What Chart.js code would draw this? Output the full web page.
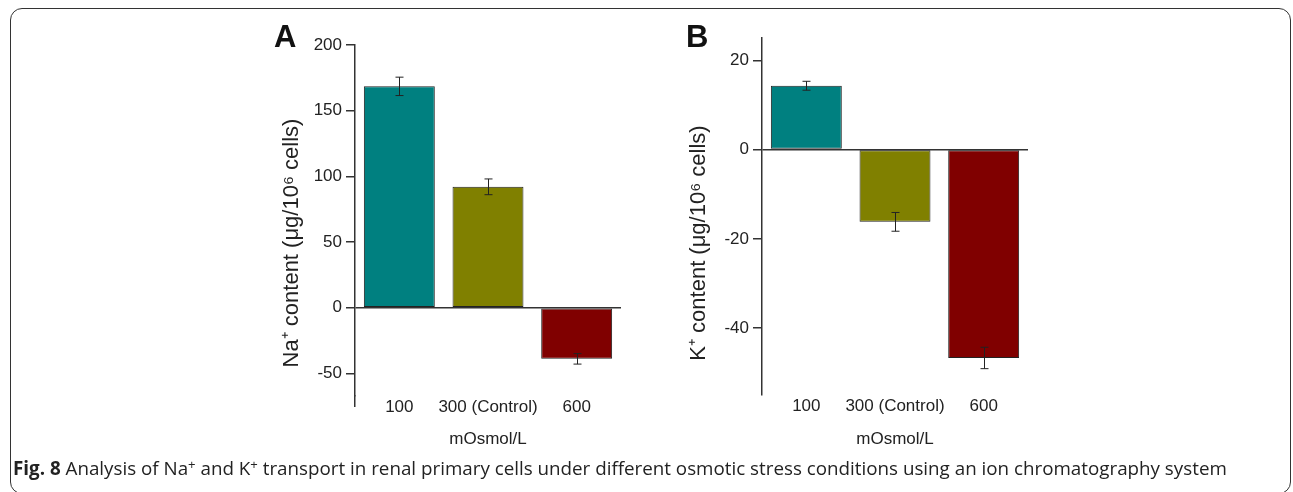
<!DOCTYPE html>
<html>
<head>
<meta charset="utf-8">
<script src="https://cdn.jsdelivr.net/npm/chart.js@4.4.1/dist/chart.umd.min.js"></script>
<style>
  body { margin: 0; background: #fff; width: 1293px; height: 492px; overflow: hidden; position: relative; }
  #frame { position: absolute; left: 10px; top: 8px; width: 1281px; height: 486px; box-sizing: border-box;
           border: 1.5px solid #333; border-radius: 12px; }
  .panel { position: absolute; top: 0; width: 400px; height: 460px; }
  #wrapA { left: 240px; }
  #wrapB { left: 650px; }
  .letter { position: absolute; top: 21px; font: bold 31px/31px "Liberation Sans", Arial, sans-serif; color: #111; }
  #caption { position: absolute; left: 13px; top: 459px; font: 18.8px/19px "Open Sans", sans-serif; color: #222; white-space: nowrap; }
  #caption sup { font-size: 0.7em; vertical-align: 0.45em; line-height: 0; }
</style>
</head>
<body>
<div id="frame"></div>
<div class="panel" id="wrapA"><canvas id="chartA" width="400" height="460"></canvas></div>
<div class="panel" id="wrapB"><canvas id="chartB" width="400" height="460"></canvas></div>
<div class="letter" style="left:274px">A</div>
<div class="letter" style="left:686px">B</div>
<div id="caption"><b>Fig. 8</b> Analysis of Na<sup>+</sup> and K<sup>+</sup> transport in renal primary cells under different osmotic stress conditions using an ion chromatography system</div>

<script>
const categories = ['100', '300 (Control)', '600'];
const barColors = ['#008080', '#808000', '#800000'];

const naValues = [168.5, 92, -39];
const naErrors = [7, 6, 4];
const naTicks = [-50, 0, 50, 100, 150, 200];

const kValues = [14.3, -16.2, -46.7];
const kErrors = [1, 2.1, 2.4];
const kTicks = [-40, -20, 0, 20];

const ink = '#222';
const fontFam = '"Liberation Sans", Arial, sans-serif';

// error bars drawn from the bar elements and the y scale
const errorBars = {
    id: 'errorBars',
    afterDatasetsDraw(chart, args, opts) {
        const ctx = chart.ctx;
        const y = chart.scales.y;
        const meta = chart.getDatasetMeta(0);
        ctx.save();
        ctx.strokeStyle = ink;
        ctx.lineWidth = 1;
        meta.data.forEach((bar, i) => {
            const v = opts.values[i], e = opts.errors[i];
            const y1 = y.getPixelForValue(v + e);
            const y2 = y.getPixelForValue(v - e);
            const x = Math.round(bar.x) + 0.5;
            ctx.beginPath();
            ctx.moveTo(x, y1); ctx.lineTo(x, y2);
            ctx.moveTo(x - 4, y1); ctx.lineTo(x + 4, y1);
            ctx.moveTo(x - 4, y2); ctx.lineTo(x + 4, y2);
            ctx.stroke();
        });
        ctx.restore();
    }
};

// rotated y title at a fixed height, plus the y axis line running on past the plot
const yTitle = {
    id: 'yTitle',
    afterDraw(chart, args, opts) {
        const ctx = chart.ctx;
        const area = chart.chartArea;
        ctx.save();
        if (opts.extend) {
            ctx.strokeStyle = '#333';
            ctx.lineWidth = 1.5;
            const x = Math.round(chart.scales.y.right - 0.75) + 0.75;
            ctx.beginPath();
            ctx.moveTo(x, area.bottom - 1);
            ctx.lineTo(x, area.bottom + opts.extend);
            ctx.stroke();
        }
        ctx.translate(area.left - 63, 243);
        ctx.rotate(-Math.PI / 2);
        ctx.font = '22px ' + fontFam;
        ctx.fillStyle = ink;
        ctx.textAlign = 'center';
        ctx.textBaseline = 'middle';
        ctx.fillText(opts.text, 0, 0);
        ctx.restore();
    }
};

function makeChart(canvas, values, errors, tickList, title, yMin, yMax, pad, axisW, axisH, labelPad, extend) {
    return new Chart(canvas, {
        type: 'bar',
        data: {
            labels: categories,
            datasets: [{
                data: values,
                backgroundColor: barColors,
                borderColor: ink,
                borderWidth: 1,
                borderSkipped: false,
                categoryPercentage: 0.8,
                barPercentage: 1
            }]
        },
        options: {
            responsive: false,
            animation: false,
            layout: { padding: pad },
            plugins: {
                legend: { display: false },
                tooltip: { enabled: false },
                errorBars: { values: values, errors: errors },
                yTitle: { text: title, extend: extend }
            },
            scales: {
                x: {
                    grid: { display: false, drawTicks: false },
                    border: { display: false },
                    ticks: { color: ink, padding: labelPad, maxRotation: 0, minRotation: 0, autoSkip: false,
                             font: { size: 17, family: fontFam } },
                    title: { display: true, text: 'mOsmol/L', color: ink, padding: { top: 0, bottom: 10 },
                             font: { size: 17, family: fontFam } },
                    afterFit: s => { s.height = axisH; }
                },
                y: {
                    min: yMin,
                    max: yMax,
                    border: { display: true, color: '#333', width: 1.5 },
                    grid: {
                        color: c => (c.tick && c.tick.value === 0) ? '#333' : 'rgba(0,0,0,0)',
                        lineWidth: 1.5,
                        tickColor: '#333',
                        tickLength: 9,
                        tickWidth: 1.5
                    },
                    ticks: { color: ink, padding: 4, font: { size: 17, family: fontFam } },
                    afterBuildTicks: s => { s.ticks = tickList.map(v => ({ value: v })); },
                    afterFit: s => { s.width = axisW; }
                }
            }
        },
        plugins: [errorBars, yTitle]
    });
}

makeChart(document.getElementById('chartA'), naValues, naErrors, naTicks,
    'Na\u207A content (\u03BCg/10\u2076 cells)', -67.3, 200,
    { top: 45, right: 19, left: 0, bottom: 0 }, 115, 64, 1, 11);

makeChart(document.getElementById('chartB'), kValues, kErrors, kTicks,
    'K\u207A content (\u03BCg/10\u2076 cells)', -55, 25,
    { top: 38, right: 22, left: 0, bottom: 0 }, 112, 65, 1.5, 0);
</script>
</body>
</html>
